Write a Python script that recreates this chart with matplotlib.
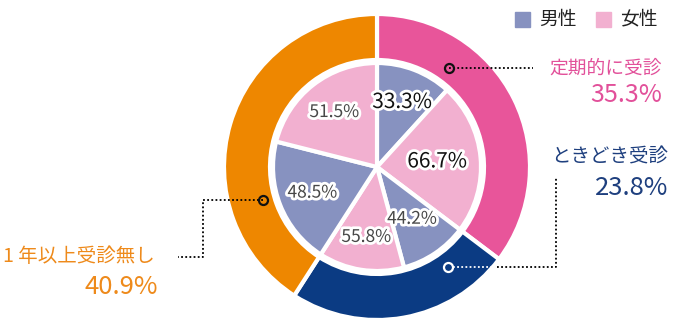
import matplotlib.pyplot as plt
import matplotlib.patheffects as pe
import numpy as np

plt.rcParams['font.family'] = ['Noto Sans CJK JP', 'DejaVu Sans']

# visit frequency (outer ring) and male/female split inside each group
groups = ['定期的に受診', 'ときどき受診', '1 年以上受診無し']
group_pct = [35.3, 23.8, 40.9]
male_pct = [33.3, 44.2, 48.5]
female_pct = [66.7, 55.8, 51.5]
legend_labels = ['男性', '女性']

ring_colors = ['#E8559A', '#0B3B83', '#EE8700']
text_colors = ['#E2509A', '#1E3F7E', '#EE8A1B']
male_color = '#8792C0'
female_color = '#F2B0D0'

W, H = 682, 335
cx, cy = 377, H - 167

fig = plt.figure(figsize=(W / 100, H / 100), dpi=100)
ax = fig.add_axes([0, 0, 1, 1])

# outer ring
ax.pie(group_pct, radius=153, center=(cx, cy), startangle=90, counterclock=False,
       colors=ring_colors,
       wedgeprops=dict(width=46, edgecolor='white', linewidth=3))

# inner pie: each group split by gender
inner_sizes, inner_labels, inner_colors = [], [], []
for g, m, f in zip(group_pct, male_pct, female_pct):
    inner_sizes += [g * m / 100, g * f / 100]
    inner_labels += [m, f]
    inner_colors += [male_color, female_color]

wedges, _ = ax.pie(inner_sizes, radius=104, center=(cx, cy), startangle=90,
                   counterclock=False, colors=inner_colors,
                   wedgeprops=dict(edgecolor='white', linewidth=3))

label_dist = [0.67, 0.58, 0.6, 0.68, 0.67, 0.67]
for i, (w, val) in enumerate(zip(wedges, inner_labels)):
    ang = np.deg2rad((w.theta1 + w.theta2) / 2)
    r = 104 * label_dist[i]
    big = i < 2
    ax.text(cx + r * np.cos(ang), cy + r * np.sin(ang), f'{val:.1f}%',
            ha='center', va='center', fontsize=15 if big else 12.5,
            color='#111111' if big else '#474747',
            path_effects=[pe.withStroke(linewidth=4, foreground='white')])

# leader lines
dot = dict(color='black', linewidth=1.3, linestyle=(0, (1, 1.3)))
ax.plot([449, 533], [H - 68, H - 68], **dot)
ax.plot(449, H - 68, 'o', ms=6.5, mfc='none', mec='#111111', mew=1.6)

ax.plot([453, 497], [H - 267, H - 267], color='white', linewidth=1.3,
        linestyle=(0, (1, 1.3)))
ax.plot([497, 556, 556], [H - 267, H - 267, H - 178], **dot)
ax.plot(448, H - 267, 'o', ms=6.5, mfc='none', mec='white', mew=1.6)

ax.plot([263, 203, 203, 178], [H - 200, H - 200, H - 257, H - 257], **dot)
ax.plot(263, H - 200, 'o', ms=6.5, mfc='none', mec='#111111', mew=1.6)

# group labels
ax.text(662, H - 68, groups[0], ha='right', va='center', fontsize=13.5,
        color=text_colors[0])
ax.text(662, H - 95, f'{group_pct[0]:.1f}%', ha='right', va='center',
        fontsize=18, color=text_colors[0])
ax.text(668, H - 157, groups[1], ha='right', va='center', fontsize=14,
        color=text_colors[1])
ax.text(668, H - 188, f'{group_pct[1]:.1f}%', ha='right', va='center',
        fontsize=18.5, color=text_colors[1])
ax.text(3, H - 257, groups[2], ha='left', va='center', fontsize=14,
        color=text_colors[2])
ax.text(158, H - 287, f'{group_pct[2]:.1f}%', ha='right', va='center',
        fontsize=18.5, color=text_colors[2])

# legend
for x0, c, lab in zip([515, 596], [male_color, female_color], legend_labels):
    ax.add_patch(plt.Rectangle((x0, H - 27), 15, 15, color=c))
    ax.text(x0 + 24, H - 19, lab, ha='left', va='center', fontsize=13.5,
            color='#222222')

ax.set_xlim(0, W)
ax.set_ylim(0, H)
ax.set_aspect('equal')
ax.axis('off')

fig.savefig('out.png', dpi=100)
